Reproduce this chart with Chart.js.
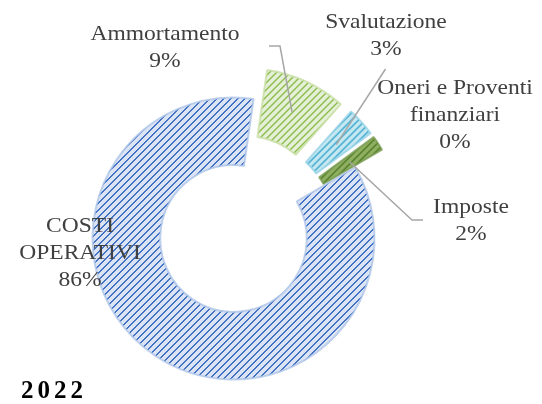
<!DOCTYPE html>
<html>
<head>
<meta charset="utf-8">
<script src="https://cdn.jsdelivr.net/npm/chart.js@4.4.1/dist/chart.umd.min.js"></script>
<style>
  body { margin: 0; background: #fff; }
  canvas { display: block; }
</style>
</head>
<body>
<canvas id="chart" width="542" height="404"></canvas>
<script>
// data
const categories = ['Ammortamento', 'Svalutazione', 'Oneri e Proventi\nfinanziari', 'Imposte', 'COSTI\nOPERATIVI'];
const values = [9.3, 3.3, 0, 1.7, 85.7];
const yearLabel = '2022';

// look
const darkColors = ['#8cbd4c', '#3aa9cc', '#e08a3c', '#4f7a28', '#4472c4'];
const lightColors = ['#e6f0d9', '#c5e8f2', '#f8dcc2', '#8fb060', '#dbe4f4'];
const edgeColors = ['rgba(200,222,165,0.8)', 'rgba(150,210,230,0.8)', 'rgba(240,190,150,0.8)', 'rgba(120,155,80,0.8)', 'rgba(175,197,232,0.8)'];
const explode = [32, 32, 32, 32, 0];

// label placement: centre x, first baseline y, leader points from the text side
const labelPos = [[165, 40], [386, 28], [455, 94], [471, 213], [80, 232]];
const leaders = [[[269, 46], [280, 46]], [[385.5, 69]], null, [[423, 220], [412, 220]], null];

// upward diagonal stripes, 7px period
function makePattern(dark, light) {
  const size = 7;
  const tile = document.createElement('canvas');
  tile.width = size;
  tile.height = size;
  const t = tile.getContext('2d');
  t.fillStyle = light;
  t.fillRect(0, 0, size, size);
  t.fillStyle = dark;
  for (let x = 0; x < size; x++) {
    t.fillRect(x, size - 1 - x, 1, 1);
    t.fillRect(x, (size - x) % size, 1, 1);
  }
  return document.getElementById('chart').getContext('2d').createPattern(tile, 'repeat');
}

const patterns = darkColors.map((c, i) => makePattern(c, lightColors[i]));

function explodeShift(arc, i) {
  const mid = (arc.startAngle + arc.endAngle) / 2;
  return [Math.cos(mid) * explode[i], Math.sin(mid) * explode[i]];
}

const explodePlugin = {
  id: 'explode',
  beforeDatasetDraw(chart, args) {
    const ctx = chart.ctx;
    args.meta.data.forEach((arc, i) => {
      const [dx, dy] = explodeShift(arc, i);
      ctx.save();
      ctx.translate(dx, dy);
      arc.draw(ctx);
      ctx.restore();
    });
    return false;
  }
};

const labelPlugin = {
  id: 'sliceLabels',
  afterDatasetsDraw(chart) {
    const ctx = chart.ctx;
    const arcs = chart.getDatasetMeta(0).data;
    const total = values.reduce((a, b) => a + b, 0);

    // leader lines
    ctx.save();
    ctx.strokeStyle = '#a6a6a6';
    ctx.lineWidth = 1.5;
    arcs.forEach((arc, i) => {
      if (!leaders[i]) return;
      const p = arc.tooltipPosition();
      const [dx, dy] = explodeShift(arc, i);
      ctx.beginPath();
      leaders[i].forEach((pt, k) => k === 0 ? ctx.moveTo(pt[0], pt[1]) : ctx.lineTo(pt[0], pt[1]));
      ctx.lineTo(p.x + dx, p.y + dy);
      ctx.stroke();
    });
    ctx.restore();

    // texts
    ctx.save();
    ctx.fillStyle = '#404040';
    ctx.font = '21px "Liberation Serif", "Times New Roman", serif';
    ctx.textAlign = 'center';
    ctx.textBaseline = 'alphabetic';
    categories.forEach((name, i) => {
      const lines = name.split('\n').concat([Math.round(values[i] / total * 100) + '%']);
      lines.forEach((line, k) => {
        ctx.save();
        ctx.translate(labelPos[i][0], labelPos[i][1] + k * 27);
        ctx.scale(1.12, 1);
        ctx.fillText(line, 0, 0);
        ctx.restore();
      });
    });
    ctx.restore();

    // year
    ctx.save();
    ctx.fillStyle = '#000';
    ctx.font = 'bold 25px "Liberation Serif", "Times New Roman", serif';
    ctx.letterSpacing = '4px';
    ctx.textAlign = 'left';
    ctx.fillText(yearLabel, 21, 398);
    ctx.restore();
  }
};

new Chart(document.getElementById('chart'), {
  type: 'doughnut',
  data: {
    labels: categories,
    datasets: [{
      data: values,
      backgroundColor: patterns,
      borderColor: edgeColors,
      borderWidth: 2
    }]
  },
  options: {
    responsive: false,
    animation: false,
    rotation: 8.2,
    cutout: '52%',
    radius: 141,
    layout: { padding: { left: 0, right: 75, top: 73, bottom: 0 } },
    plugins: {
      legend: { display: false },
      tooltip: { enabled: false }
    }
  },
  plugins: [explodePlugin, labelPlugin]
});
</script>
</body>
</html>
